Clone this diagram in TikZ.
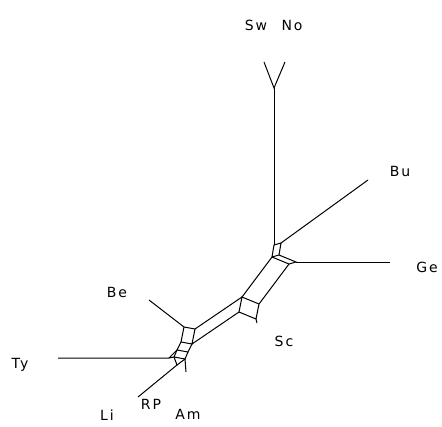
\documentclass[tikz,border=0pt]{standalone}
\usepackage{fontspec}
\setmainfont{DejaVu Sans}
\begin{document}
\begin{tikzpicture}[
		x=1pt, y=-1pt,
		every node/.style={inner sep=0pt, text height=10pt, text depth=0pt,
			font=\fontsize{14}{14}\selectfont\addfontfeatures{LetterSpace=14}},
		split/.style={line width=1pt}
	]
	\useasboundingbox (0,0) rectangle (442,426);
	% upper knot
	\coordinate (p) at (272,257);
	\coordinate (r) at (274,245);
	\coordinate (s) at (281,243);
	\coordinate (t) at (279,255);
	\coordinate (q) at (289,264);
	\coordinate (u) at (296,262);
	% Sc box
	\coordinate (a) at (242,297);
	\coordinate (b) at (259,304);
	\coordinate (c) at (256,319);
	\coordinate (d) at (239,312);
	% Be box and lower knots
	\coordinate (e) at (195,329);
	\coordinate (f) at (192,344);
	\coordinate (g) at (184,327);
	\coordinate (h) at (181,342);
	\coordinate (k) at (177,350);
	\coordinate (l) at (188,352);
	\coordinate (m) at (174,357);
	\coordinate (n) at (185,359);
	\coordinate (o) at (177,365);
	\coordinate (tyjoin) at (169,358);
	% leaves
	\coordinate (join) at (274,88);
	\coordinate (swleaf) at (264,62);
	\coordinate (noleaf) at (285,62);
	\coordinate (buleaf) at (368,180);
	\coordinate (geleaf) at (390,262);
	\coordinate (scleaf) at (257,323);
	\coordinate (beleaf) at (149,300);
	\coordinate (tyleaf) at (58,358);
	\coordinate (lileaf) at (138,397);
	\coordinate (amleaf) at (186,372);

	\draw[split] (swleaf) -- (join) -- (noleaf);
	\draw[split] (join) -- (r);
	\draw[split] (p) -- (r) -- (s) -- (t) -- cycle;
	\draw[split] (p) -- (q) -- (u) -- (t);
	\draw[split] (s) -- (buleaf);
	\draw[split] (u) -- (geleaf);
	\draw[split] (p) -- (a);
	\draw[split] (q) -- (b);
	\draw[split] (a) -- (b) -- (c) -- (d) -- cycle;
	\draw[split] (c) -- (scleaf);
	\draw[split] (a) -- (e);
	\draw[split] (d) -- (f);
	\draw[split] (g) -- (e) -- (f) -- (h) -- cycle;
	\draw[split] (g) -- (beleaf);
	\draw[split] (h) -- (k) -- (l) -- (f);
	\draw[split] (k) -- (m) -- (n) -- (l);
	\draw[split] (tyleaf) -- (tyjoin) -- (m);
	\draw[split] (tyjoin) -- (k);
	\draw[split] (m) -- (o) -- (lileaf);
	\draw[split] (o) -- (n) -- (amleaf);

	% taxon labels
	\node (sw) at (256,25) {Sw};
	\node (no) at (292,25) {No};
	\node (bu) at (400,171) {Bu};
	\node (ge) at (427,267) {Ge};
	\node (sc) at (284,341) {Sc};
	\node (be) at (117,292) {Be};
	\node (ty) at (20,363) {Ty};
	\node (li) at (107,415) {Li};
	\node (rp) at (151,404) {RP};
	\node (am) at (188,414) {Am};
\end{tikzpicture}
\end{document}
